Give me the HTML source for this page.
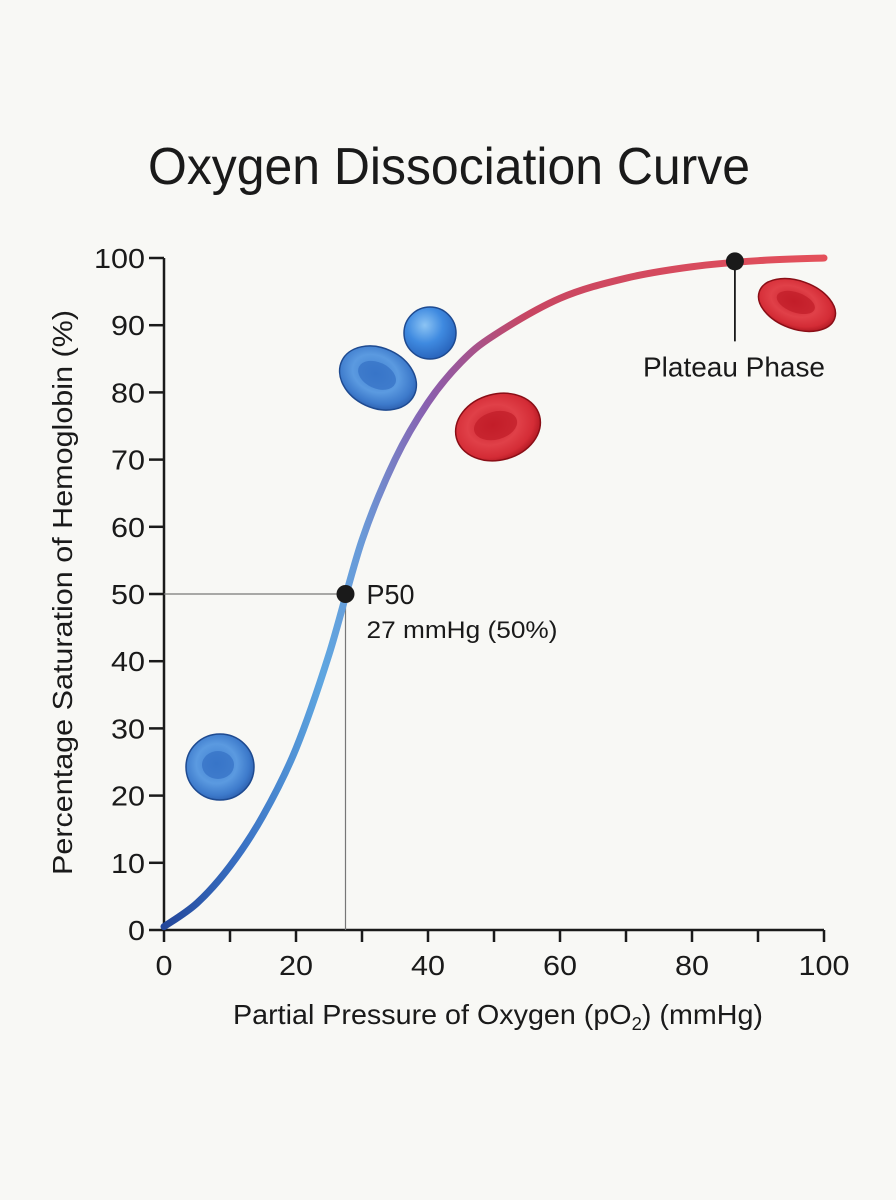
<!DOCTYPE html>
<html><head><meta charset="utf-8"><style>
html,body{margin:0;padding:0;background:#f8f8f5;}
svg{display:block;font-family:"Liberation Sans",sans-serif;}
</style></head><body>
<svg id="chart" width="896" height="1200" viewBox="0 0 896 1200">
<defs>
<linearGradient id="cg" gradientUnits="userSpaceOnUse" x1="164" y1="0" x2="824" y2="0">
<stop offset="0" stop-color="#23469a"/><stop offset="0.12" stop-color="#3a72c4"/><stop offset="0.24" stop-color="#5fa6e0"/>
<stop offset="0.30" stop-color="#6a9ad8"/><stop offset="0.40" stop-color="#8a5eae"/><stop offset="0.55" stop-color="#c84662"/><stop offset="1" stop-color="#e4505a"/>
</linearGradient>
<radialGradient id="blue" cx="0.45" cy="0.45" r="0.6"><stop offset="0" stop-color="#3f7fd0"/><stop offset="0.5" stop-color="#5b9ae0"/><stop offset="0.8" stop-color="#3d7acb"/><stop offset="1" stop-color="#2a5aa8"/></radialGradient>
<radialGradient id="red" cx="0.45" cy="0.45" r="0.6"><stop offset="0" stop-color="#c8202c"/><stop offset="0.5" stop-color="#e04048"/><stop offset="0.8" stop-color="#d42c36"/><stop offset="1" stop-color="#a8141e"/></radialGradient>
<radialGradient id="ball" cx="0.4" cy="0.35" r="0.7"><stop offset="0" stop-color="#8cc4f4"/><stop offset="0.5" stop-color="#3f8ae0"/><stop offset="1" stop-color="#2660b8"/></radialGradient>
</defs>
<text x="148" y="184" font-size="52" textLength="602" lengthAdjust="spacingAndGlyphs" fill="#1a1a1a">Oxygen Dissociation Curve</text>
<g id="axes"></g>
<text transform="translate(72,875) rotate(-90)" font-size="28" textLength="565" lengthAdjust="spacingAndGlyphs" fill="#1a1a1a">Percentage Saturation of Hemoglobin (%)</text>
<text x="233" y="1024" font-size="28" textLength="530" lengthAdjust="spacingAndGlyphs" fill="#1a1a1a">Partial Pressure of Oxygen (pO<tspan font-size="18" dy="6">2</tspan><tspan dy="-6">) (mmHg)</tspan></text>
<g>
<g><ellipse cx="220" cy="767" rx="34" ry="33" fill="url(#blue)" stroke="#1e4a90" stroke-width="1.5"/><ellipse cx="218" cy="765" rx="16" ry="14" fill="#3570c4" opacity="0.7"/></g>
<g transform="rotate(25 378 378)"><ellipse cx="378" cy="378" rx="40" ry="30" fill="url(#blue)" stroke="#1e4a90" stroke-width="1.5"/><ellipse cx="376" cy="376" rx="20" ry="13" fill="#3570c4" opacity="0.7"/></g>
<g><circle cx="430" cy="333" r="26" fill="url(#ball)" stroke="#1e4a90" stroke-width="1.5"/></g>
<g transform="rotate(-15 498 427)"><ellipse cx="498" cy="427" rx="43" ry="33" fill="url(#red)" stroke="#8a0e16" stroke-width="1.5"/><ellipse cx="496" cy="425" rx="22" ry="14" fill="#c01c28" opacity="0.7"/></g>
<g transform="rotate(20 797 305)"><ellipse cx="797" cy="305" rx="40" ry="24" fill="url(#red)" stroke="#8a0e16" stroke-width="1.5"/><ellipse cx="795" cy="303" rx="20" ry="10" fill="#c01c28" opacity="0.7"/></g>
</g>
<g id="plot"></g>
</svg>
<script>
const xTicks=[0,10,20,30,40,50,60,70,80,90,100];
const xLabels=[0,20,40,60,80,100];
const yTicks=[0,10,20,30,40,50,60,70,80,90,100];
const pO2=[0,5,10,15,20,25,30,35,40,45,50,60,70,80,90,100];
const saturation=[0.5,4,9.5,17,27,41,58,70,78.5,84.5,88.5,94,97,98.7,99.6,100];
const p50=[27.5,50];
const plateau=[86.5,99.5];
const NS="http://www.w3.org/2000/svg";
const X0=164,X1=824,Y0=930,Y1=258;
const sx=v=>X0+(v-0)/(100-0)*(X1-X0);
const sy=v=>Y0-(v-0)/(100-0)*(Y0-Y1);
function mk(tag,attrs,parent){const e=document.createElementNS(NS,tag);for(const k in attrs)e.setAttribute(k,attrs[k]);parent.appendChild(e);return e;}
const ax=document.getElementById('axes'),pl=document.getElementById('plot');
let l=mk('line',{x1:X0,y1:Y1,x2:X0,y2:Y0,stroke:'#1a1a1a','stroke-width':2.5},ax);


l=mk('line',{x1:X0,y1:Y0,x2:X1,y2:Y0,stroke:'#1a1a1a','stroke-width':2.5},ax);


yTicks.forEach(v=>{
 const t=mk('line',{x1:X0-15,y1:sy(v),x2:X0,y2:sy(v),stroke:'#1a1a1a','stroke-width':2.5},ax);
 
 
 const w=String(v).length*17;
 const tx=mk('text',{x:X0-19-w,y:sy(v)+10,'font-size':28,textLength:w,lengthAdjust:'spacingAndGlyphs',fill:'#1a1a1a'},ax);
 tx.textContent=v;
 
 
});
xTicks.forEach(v=>{
 const t=mk('line',{x1:sx(v),y1:Y0,x2:sx(v),y2:Y0+12,stroke:'#1a1a1a','stroke-width':2.5},ax);
 
 
});
xLabels.forEach(v=>{
 const w=String(v).length*17;
 const tx=mk('text',{x:sx(v)-w/2,y:Y0+45,'font-size':28,textLength:w,lengthAdjust:'spacingAndGlyphs',fill:'#1a1a1a'},ax);
 tx.textContent=v;
 
 
});
let g=mk('polyline',{points:`${X0},${sy(p50[1])} ${sx(p50[0])},${sy(p50[1])} ${sx(p50[0])},${Y0}`,fill:'none',stroke:'#777','stroke-width':1.2},pl);


const P=pO2.map((x,i)=>[sx(x),sy(saturation[i])]);
let d=`M${P[0][0]},${P[0][1]}`;
for(let i=0;i<P.length-1;i++){const p0=P[Math.max(0,i-1)],p1=P[i],p2=P[i+1],p3=P[Math.min(P.length-1,i+2)];
 d+=` C${p1[0]+(p2[0]-p0[0])/6},${p1[1]+(p2[1]-p0[1])/6} ${p2[0]-(p3[0]-p1[0])/6},${p2[1]-(p3[1]-p1[1])/6} ${p2[0]},${p2[1]}`;}
const c=mk('path',{d:d,fill:'none',stroke:'url(#cg)','stroke-width':7,'stroke-linecap':'round'},pl);


l=mk('line',{x1:sx(plateau[0]),y1:sy(plateau[1]),x2:sx(plateau[0]),y2:sy(plateau[1])+80,stroke:'#1a1a1a','stroke-width':1.8},pl);


let pt=mk('circle',{cx:sx(plateau[0]),cy:sy(plateau[1]),r:9,fill:'#1a1a1a'},pl);


let tx=mk('text',{x:643,y:sy(plateau[1])+115,'font-size':28,textLength:182,lengthAdjust:'spacingAndGlyphs',fill:'#1a1a1a'},pl);
tx.textContent='Plateau Phase';


pt=mk('circle',{cx:sx(p50[0]),cy:sy(p50[1]),r:9,fill:'#1a1a1a'},pl);


tx=mk('text',{x:sx(p50[0])+21,y:sy(p50[1])+10,'font-size':28,textLength:48,lengthAdjust:'spacingAndGlyphs',fill:'#1a1a1a'},pl);
tx.textContent='P50';


tx=mk('text',{x:sx(p50[0])+21,y:sy(p50[1])+44,'font-size':24,textLength:191,lengthAdjust:'spacingAndGlyphs',fill:'#1a1a1a'},pl);
tx.textContent='27 mmHg (50%)';


</script>
</body></html>
